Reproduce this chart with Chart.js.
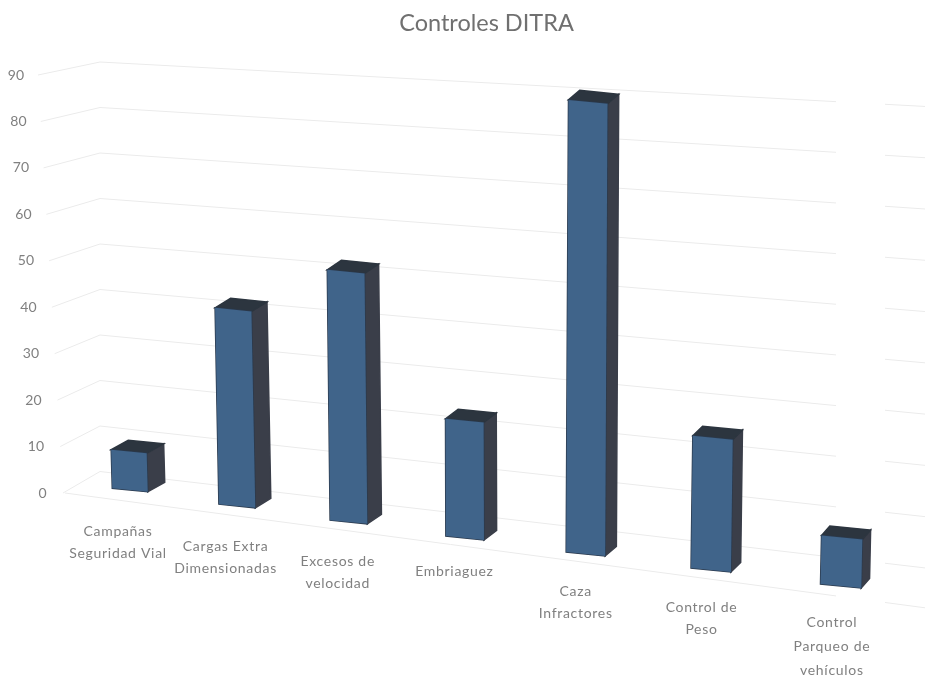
<!DOCTYPE html>
<html><head><meta charset="utf-8">
<style>html,body{margin:0;background:#fff}canvas{display:block;filter:blur(.7px)}</style>
<script src="https://cdn.jsdelivr.net/npm/chart.js@4"></script></head>
<body><canvas id="c" width="944" height="677"></canvas>
<script>
const chartTitle = "Controles DITRA";
const categories = [["Campañas","Seguridad Vial"],["Cargas Extra","Dimensionadas"],["Excesos de","velocidad"],["Embriaguez"],["Caza","Infractores"],["Control de","Peso"],["Control","Parqueo de","vehículos"]];
const values = [8,40,50,23,87,25,9];
const yMax = 90, yStep = 10;

// Oblique projection that mimics the tilted 3D view of the original
const view = {
  cx: i => 130 + 104.8*i + 2.28*i*i,
  baseY: i => 490 + 16*i,
  unit: i => 4.8 + 0.1*i,
  widthK: i => 1 + 0.025*i,
  lean: x => 0.0385*(1 - x/510),
  slope: 0.1,
  depthX: i => 17 - 1.45*i,
  depthY: -9.5,
  wallY: (v,x) => { const t=(x-100)/800; return (1-t)*(471.5-4.55*v) + t*(565-5.11*v); }
};
const colors = {front:"#40648a", edge:"#2b3a4d", side:"#3a3e49", top:"#2c353f", grid:"#ebebeb", text:"#808080", title:"#707070"};

const projection = {
  id:"projection",
  beforeDatasetsDraw(chart){
    const {ctx, scales:{y}} = chart;
    ctx.save();
    ctx.strokeStyle = colors.grid; ctx.lineWidth = 1;
    y.ticks.forEach(t=>{
      const v=t.value, py=y.getPixelForValue(v), lx=38+25*(yMax-v)/yMax;
      ctx.beginPath();
      ctx.moveTo(lx, py);
      ctx.lineTo(100, view.wallY(v,100));
      ctx.lineTo(836, view.wallY(v,836));
      ctx.moveTo(885, view.wallY(v,885));
      ctx.lineTo(925, view.wallY(v,925));
      ctx.stroke();
    });
    const fy = x => y.getPixelForValue(0) + 0.1335*(x-65);
    ctx.beginPath(); ctx.moveTo(65,fy(65)); ctx.lineTo(836,fy(836));
    ctx.moveTo(885,fy(885)); ctx.lineTo(925,fy(925)); ctx.stroke();
    // value-axis labels, following the tilted left wall
    ctx.font = "14px Lato"; ctx.fillStyle = colors.text; ctx.textAlign="right"; ctx.textBaseline="middle";
    y.ticks.forEach(t=>{ ctx.fillText(t.label, 24+(yMax-t.value)*0.25, y.getPixelForValue(t.value)); });
    // category labels along the sloping floor
    ctx.font = "14px Lato"; ctx.textAlign="center";
    if ("letterSpacing" in ctx) ctx.letterSpacing = "0.7px";
    chart.data.labels.forEach((lab,i)=>{
      const lx = view.cx(i) - 12 + 0.5*i, ly = 531 + 15.2*i - (lab.length===1?5:0);
      lab.forEach((s,j)=>ctx.fillText(s, lx, ly + j*(lab.length>2?24:22)));
    });
    ctx.restore();
  },
  beforeDatasetDraw(chart,args){
    const {ctx} = chart, meta = args.meta, nu = chart.scales.y.getPixelForValue(0)-chart.scales.y.getPixelForValue(1);
    meta.data.forEach((el,i)=>{
      const p = el.getProps(["x","y","base","width"],true);
      const cx=view.cx(i), by=view.baseY(i), k=view.widthK(i), lean=view.lean(cx), s=view.slope, m=view.unit(i)/nu;
      const a=k, b=s*k, c=lean, d=m+s*lean;
      const e=cx-k*p.x-lean*p.base, f=by-s*k*p.x-(s*lean+m)*p.base;
      const T=(x,y)=>[a*x+c*y+e, b*x+d*y+f];
      const L=p.x-p.width/2, R=p.x+p.width/2;
      const tl=T(L,p.y), tr=T(R,p.y), br=T(R,p.base), bl=T(L,p.base);
      const dx=view.depthX(i), dy=view.depthY;
      const poly=(pts,col,stroke)=>{ctx.beginPath();pts.forEach((q,n)=>n?ctx.lineTo(q[0],q[1]):ctx.moveTo(q[0],q[1]));ctx.closePath();ctx.fillStyle=col;ctx.fill();if(stroke){ctx.strokeStyle=stroke;ctx.lineWidth=1.5;ctx.stroke();}};
      ctx.save();
      poly([tr,[tr[0]+dx,tr[1]+dy],[br[0]+dx,br[1]+dy],br],colors.side,colors.side);
      poly([tl,[tl[0]+dx,tl[1]+dy],[tr[0]+dx,tr[1]+dy],tr],colors.top,colors.top);
      poly([tl,tr,br,bl],colors.edge,colors.edge);
      ctx.transform(a,b,c,d,e,f);
      el.draw(ctx);
      ctx.restore();
    });
    return false;
  }
};

new Chart(document.getElementById("c"),{
  type:"bar",
  data:{labels:categories,datasets:[{label:chartTitle,data:values,backgroundColor:colors.front,borderWidth:0,inflateAmount:0,barPercentage:.3,categoryPercentage:1}]},
  options:{
    responsive:false,animation:false,devicePixelRatio:1,
    layout:{padding:{left:65,right:44,top:0,bottom:184}},
    plugins:{legend:{display:false},tooltip:{enabled:false},
      title:{display:true,text:chartTitle,fullSize:false,color:colors.title,font:{family:"Lato",size:23.5,weight:"normal"},padding:{top:9,bottom:37.8}}},
    scales:{
      x:{display:false},
      y:{min:0,max:yMax,ticks:{stepSize:yStep,display:false},grid:{display:false},border:{display:false}}
    }
  },
  plugins:[projection]
});
</script></body></html>
